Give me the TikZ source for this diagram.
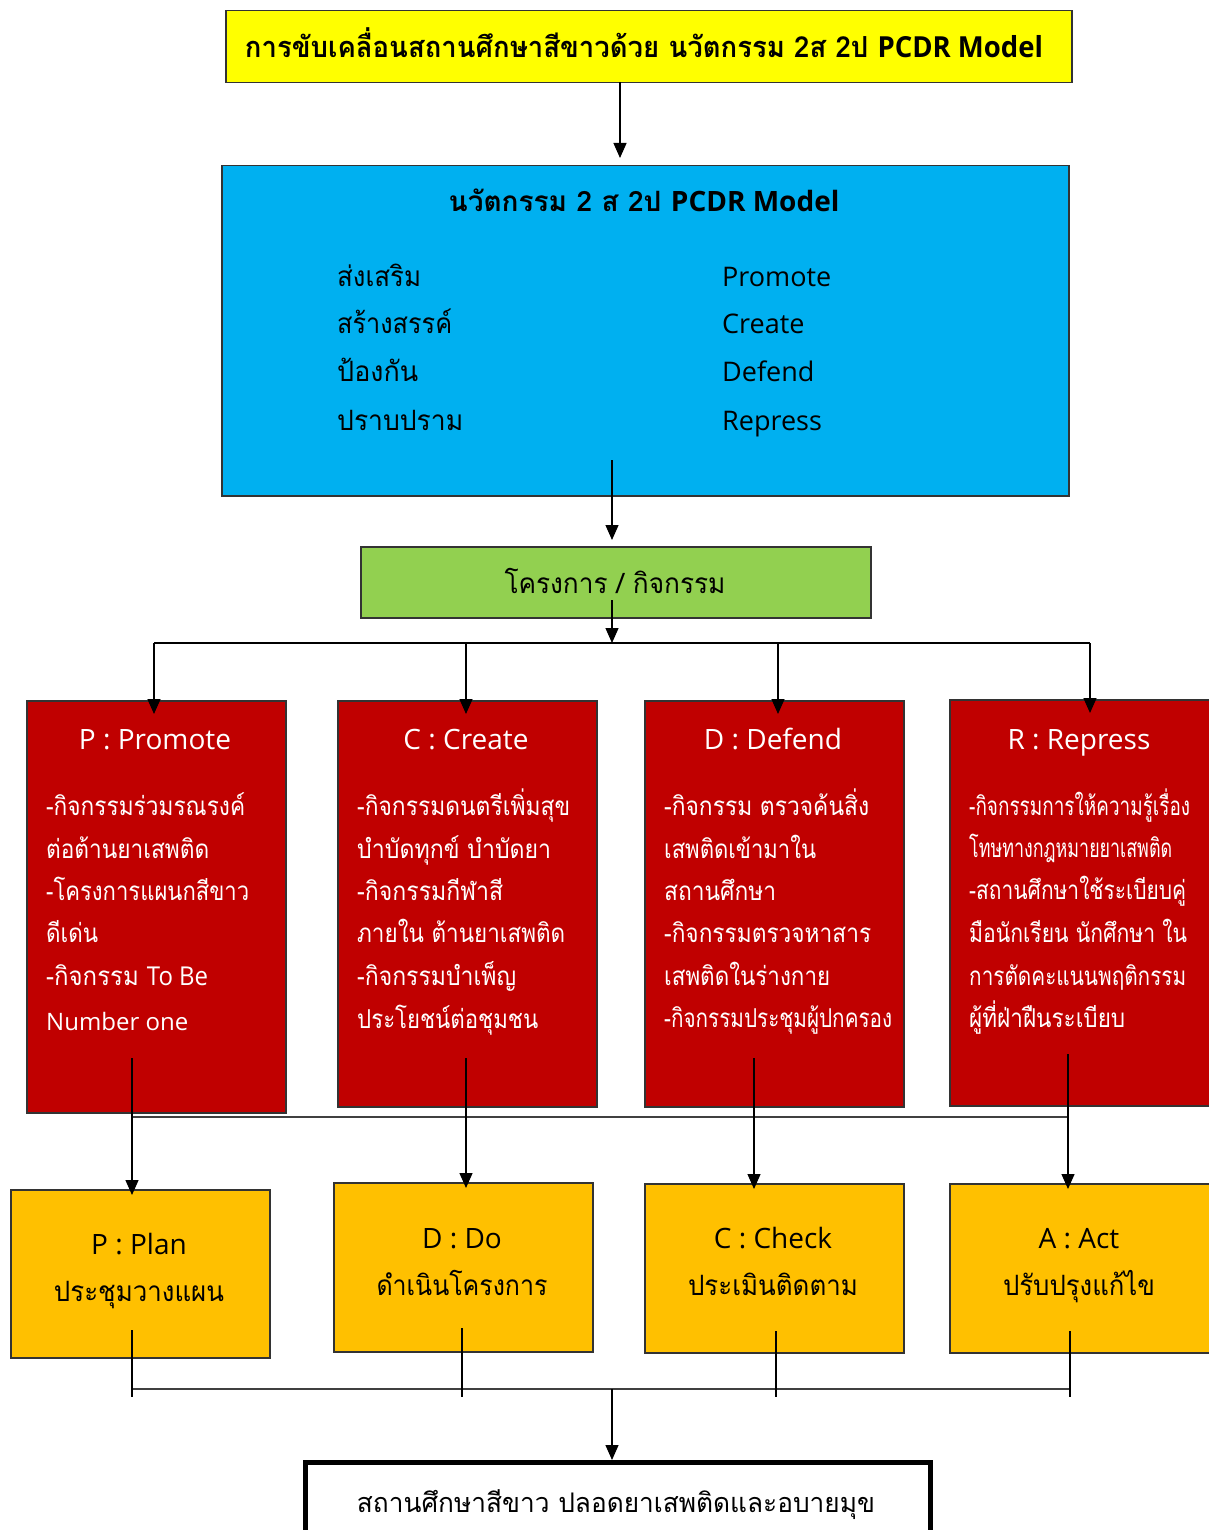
\documentclass[tikz,border=0pt]{standalone}
\usepackage{fontspec}
\usepackage{graphicx}
\setmainfont[Script=Thai]{Loma}
\newfontfamily\lat{Open Sans}
\usetikzlibrary{arrows.meta}
\definecolor{cyanb}{HTML}{00B0F0}
\definecolor{greenb}{HTML}{92D050}
\definecolor{redb}{HTML}{C00000}
\definecolor{orangeb}{HTML}{FFC000}
\definecolor{yellowb}{HTML}{FFFF00}
\newcommand\fw[2]{\resizebox{#1pt}{\height}{#2}}
\begin{document}
\begin{tikzpicture}[x=1pt,y=-1pt,
  box/.style={draw=black!80, line width=1.5pt, anchor=north west, inner sep=0pt},
  arr/.style={line width=1.3pt, -{Triangle[length=15pt,width=13pt]}},
  ln/.style={line width=1.3pt},
  hl/.style={line width=2pt, draw=black!75},
  txt/.style={inner sep=0pt, anchor=base},
  ltxt/.style={inner sep=0pt, anchor=base west},
  redt/.style={ltxt, text=white, font=\fontsize{26}{30}\selectfont},
]
\useasboundingbox (0,0) rectangle (1208,1530);
\fill[white] (0,0) rectangle (1208,1530);

% ---- boxes
\node[box, fill=yellowb, minimum width=846pt, minimum height=72pt] (top) at (225,10) {};
\node[box, fill=cyanb, minimum width=847pt, minimum height=330pt] (blue) at (221,165) {};
\node[box, fill=greenb, minimum width=510pt, minimum height=71pt] (green) at (360,546) {};
\node[box, fill=redb, minimum width=259pt, minimum height=412pt] (rP) at (26,700) {};
\node[box, fill=redb, minimum width=259pt, minimum height=406pt] (rC) at (337,700) {};
\node[box, fill=redb, minimum width=259pt, minimum height=406pt] (rD) at (644,700) {};
\node[box, fill=redb, minimum width=268pt, minimum height=406pt] (rR) at (949,699) {};
\node[box, fill=orangeb, minimum width=259pt, minimum height=168pt] (oP) at (10,1189) {};
\node[box, fill=orangeb, minimum width=259pt, minimum height=169pt] (oD) at (333,1182) {};
\node[box, fill=orangeb, minimum width=259pt, minimum height=169pt] (oC) at (644,1183) {};
\node[box, fill=orangeb, minimum width=268pt, minimum height=169pt] (oA) at (949,1183) {};
\node[box, draw=black, line width=5pt, fill=white, minimum width=625pt, minimum height=100pt] (fin) at (303,1460) {};

% ---- texts
\node[txt, font=\bfseries\fontsize{29}{32}\selectfont] (tTop) at (644,58) {\fw{798}{การขับเคลื่อนสถานศึกษาสีขาวด้วย นวัตกรรม 2ส 2ป {\lat\bfseries PCDR Model}}};
\node[txt, font=\bfseries\fontsize{28}{32}\selectfont] (tBlue) at (644,212) {นวัตกรรม 2 ส 2ป {\lat\bfseries PCDR Model}};
\node[ltxt, font=\fontsize{28}{32}\selectfont] (b1) at (337,286) {\fw{84}{ส่งเสริม}};
\node[ltxt, font=\fontsize{28}{32}\selectfont] (b2) at (337,333) {\fw{115}{สร้างสรรค์}};
\node[ltxt, font=\fontsize{28}{32}\selectfont] (b3) at (337,381) {\fw{81}{ป้องกัน}};
\node[ltxt, font=\fontsize{28}{32}\selectfont] (b4) at (337,430) {\fw{126}{ปราบปราม}};
\node[ltxt, font=\lat\fontsize{27}{32}\selectfont] (e1) at (722,286) {Promote};
\node[ltxt, font=\lat\fontsize{27}{32}\selectfont] (e2) at (722,333) {Create};
\node[ltxt, font=\lat\fontsize{27}{32}\selectfont] (e3) at (722,381) {Defend};
\node[ltxt, font=\lat\fontsize{27}{32}\selectfont] (e4) at (722,430) {Repress};
\node[txt, font=\fontsize{28}{32}\selectfont] (tGreen) at (615,593) {\fw{221}{โครงการ / กิจกรรม}};

% red titles
\node[txt, text=white, font=\lat\fontsize{28}{32}\selectfont] (hP) at (155,749) {P : Promote};
\node[txt, text=white, font=\lat\fontsize{28}{32}\selectfont] (hC) at (466,749) {C : Create};
\node[txt, text=white, font=\lat\fontsize{28}{32}\selectfont] (hD) at (773,749) {D : Defend};
\node[txt, text=white, font=\lat\fontsize{28}{32}\selectfont] (hR) at (1079,749) {R : Repress};

% P body
\node[redt] (p1) at (46,815) {\fw{199}{-กิจกรรมร่วมรณรงค์}};
\node[redt] (p2) at (46,858) {\fw{163}{ต่อต้านยาเสพติด}};
\node[redt] (p3) at (46,900) {\fw{203}{-โครงการแผนกสีขาว}};
\node[redt] (p4) at (46,942) {\fw{52}{ดีเด่น}};
\node[redt] (p5) at (46,985) {\fw{162}{-กิจกรรม {\lat To Be}}};
\node[redt, font=\lat\fontsize{24}{30}\selectfont] (p6) at (46,1030) {Number one};
% C body
\node[redt] (c1) at (357,815) {\fw{213}{-กิจกรรมดนตรีเพิ่มสุข}};
\node[redt] (c2) at (357,858) {\fw{194}{บำบัดทุกข์ บำบัดยา}};
\node[redt] (c3) at (357,900) {\fw{146}{-กิจกรรมกีฬาสี}};
\node[redt] (c4) at (357,942) {\fw{208}{ภายใน ต้านยาเสพติด}};
\node[redt] (c5) at (357,985) {\fw{159}{-กิจกรรมบำเพ็ญ}};
\node[redt] (c6) at (357,1028) {\fw{181}{ประโยชน์ต่อชุมชน}};
% D body
\node[redt] (d1) at (664,815) {\fw{205}{-กิจกรรม ตรวจค้นสิ่ง}};
\node[redt] (d2) at (664,858) {\fw{152}{เสพติดเข้ามาใน}};
\node[redt] (d3) at (664,900) {\fw{112}{สถานศึกษา}};
\node[redt] (d4) at (664,942) {\fw{207}{-กิจกรรมตรวจหาสาร}};
\node[redt] (d5) at (664,985) {\fw{166}{เสพติดในร่างกาย}};
\node[redt] (d6) at (664,1027) {\fw{228}{-กิจกรรมประชุมผู้ปกครอง}};
% R body
\node[redt] (r1) at (969,815) {\fw{221}{-กิจกรรมการให้ความรู้เรื่อง}};
\node[redt] (r2) at (969,857) {\fw{203}{โทษทางกฎหมายยาเสพติด}};
\node[redt] (r3) at (969,899) {\fw{217}{-สถานศึกษาใช้ระเบียบคู่}};
\node[redt] (r4) at (969,942) {\fw{218}{มือนักเรียน นักศึกษา ใน}};
\node[redt] (r5) at (969,985) {\fw{217}{การตัดคะแนนพฤติกรรม}};
\node[redt] (r6) at (969,1027) {\fw{156}{ผู้ที่ฝ่าฝืนระเบียบ}};

% orange texts
\node[txt, font=\lat\fontsize{28}{30}\selectfont] (oP1) at (139,1254) {P : Plan};
\node[txt, font=\fontsize{28}{30}\selectfont] (oP2) at (139,1301) {\fw{170}{ประชุมวางแผน}};
\node[txt, font=\lat\fontsize{28}{30}\selectfont] (oD1) at (462,1248) {D : Do};
\node[txt, font=\fontsize{28}{30}\selectfont] (oD2) at (462,1295) {\fw{171}{ดำเนินโครงการ}};
\node[txt, font=\lat\fontsize{28}{30}\selectfont] (oC1) at (773,1248) {C : Check};
\node[txt, font=\fontsize{28}{30}\selectfont] (oC2) at (773,1295) {\fw{170}{ประเมินติดตาม}};
\node[txt, font=\lat\fontsize{28}{30}\selectfont] (oA1) at (1079,1248) {A : Act};
\node[txt, font=\fontsize{28}{30}\selectfont] (oA2) at (1079,1295) {\fw{152}{ปรับปรุงแก้ไข}};

\node[txt, font=\fontsize{27}{30}\selectfont] (tFin) at (616,1512) {\fw{518}{สถานศึกษาสีขาว ปลอดยาเสพติดและอบายมุข}};

% ---- connector coordinates
\coordinate (s1) at (620,82);
\coordinate (s2) at (612,460);
\coordinate (s3) at (612,600);
\coordinate (busL) at (154,643);
\coordinate (busR) at (1090,643);
\coordinate (k1) at (154,643);
\coordinate (k2) at (466,643);
\coordinate (k3) at (778,643);
\coordinate (k4) at (1090,643);
\coordinate (m1) at (132,1058);
\coordinate (m2) at (466,1058);
\coordinate (m3) at (754,1058);
\coordinate (m4) at (1068,1054);
\coordinate (n1) at (132,1330);
\coordinate (n2) at (462,1328);
\coordinate (n3) at (776,1331);
\coordinate (n4) at (1070,1331);
\coordinate (s4) at (612,1389);

% ---- connectors
\draw[arr] (s1) -- ([yshift=7pt]blue.north -| s1);
\draw[arr] (s2) -- ([yshift=6pt]green.north -| s2);
\draw[arr] (s3) -- (s3 |- busL);
\draw[ln] (busL) -- (busR);
\foreach \k/\r in {k1/rP,k2/rC,k3/rD,k4/rR}
  \draw[arr] (\k) -- ([yshift=-14pt]\r.north -| \k);
\draw[hl] (m1 |- 0,1117) -- (m4 |- 0,1117);
\foreach \m/\o in {m1/oP,m2/oD,m3/oC,m4/oA}
  \draw[arr] (\m) -- ([yshift=-6pt]\o.north -| \m);
\draw[hl] (n1 |- s4) -- (n4 |- s4);
\foreach \n in {n1,n2,n3,n4}
  \draw[ln] (\n) -- ([yshift=-8pt]\n |- s4);
\draw[arr] (s4) -- (fin.north -| s4);
\end{tikzpicture}
\end{document}
